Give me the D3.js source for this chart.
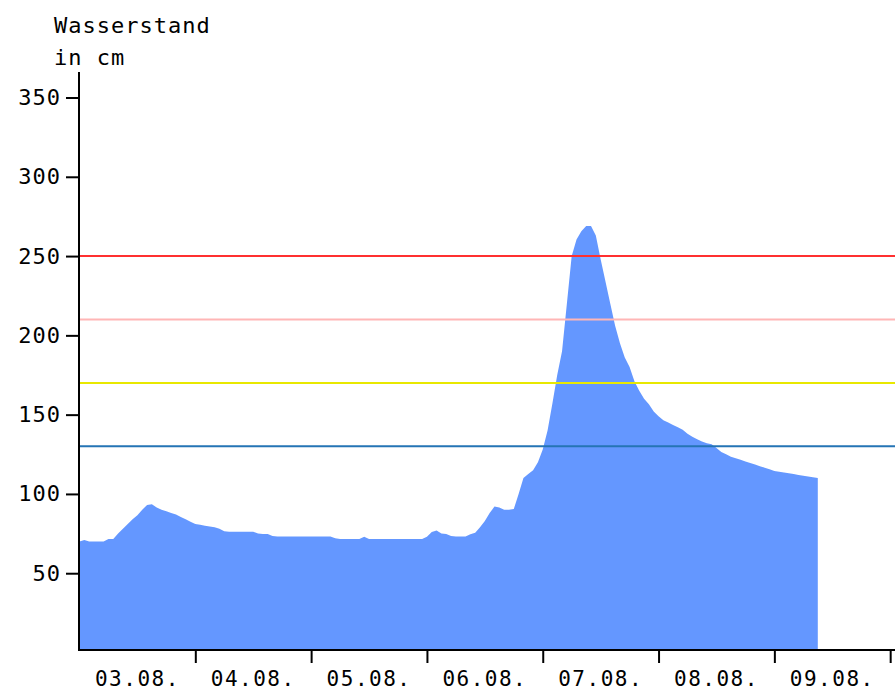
<!DOCTYPE html>
<html>
<head>
<meta charset="utf-8">
<script src="https://cdn.jsdelivr.net/npm/d3@7"></script>
<style>
  body { margin: 0; background: #fff; }
  text { font-family: "DejaVu Sans Mono", monospace; }
</style>
</head>
<body>
<svg id="chart" width="895" height="691"></svg>
<script>

//--------------------------------------
// DATA
//--------------------------------------

// hourly readings, first one at 03.08. 00:00
var startDate = new Date(2021, 7, 3, 0, 0);

var levels = [
  70, 71, 70, 70, 70, 70, 71.5, 71.5, 75, 78, 81, 84, 86.5, 90, 93, 93.5, 91.5, 90, 89, 88, 87, 85.5, 84, 82.5,
  81, 80.5, 80, 79.5, 79, 78, 76.5, 76.2, 76.2, 76.2, 76.2, 76.2, 76.2, 75, 74.7, 74.7, 73.5, 73.2, 73.2, 73.2, 73.2, 73.2, 73.2, 73.2,
  73.2, 73.2, 73.2, 73.2, 73.2, 72, 71.6, 71.6, 71.6, 71.6, 71.6, 73, 71.6, 71.6, 71.6, 71.6, 71.6, 71.6, 71.6, 71.6, 71.6, 71.6, 71.6, 71.6,
  73, 76, 77, 75, 74.7, 73.5, 73.2, 73.2, 73.2, 74.5, 75.5, 79, 83, 88, 92, 91.5, 90, 90, 90.5, 100, 110, 112.5, 115, 120,
  128, 140, 157, 175, 190, 220, 250, 260.5, 265.7, 269, 269, 263, 248, 234, 220, 206, 195, 186, 180, 171, 165, 160, 156.6, 152,
  149, 146.5, 145, 143.5, 142, 140.5, 138, 136, 134.5, 133, 132, 131.4, 129, 126.5, 125, 123.5, 122.5, 121.5, 120.5, 119.5, 118.5, 117.5, 116.5, 115.5,
  114.5, 114, 113.5, 113, 112.5, 112, 111.5, 111, 110.5, 110
];

var dayLabels = ["03.08.", "04.08.", "05.08.", "06.08.", "07.08.", "08.08.", "09.08."];

var yTicks = [50, 100, 150, 200, 250, 300, 350];

// warning levels (cm)
var limitValues = [250, 210, 170, 130];
var limitColours = ["#ff3030", "#ffb6b6", "#e8e800", "#2574b5"];



//--------------------------------------
// SETUP
//--------------------------------------

var svg = d3.select("#chart");
var left = 79, bottom = 650, right = 895;

var x = d3.scaleTime()
  .domain([startDate, d3.timeHour.offset(startDate, 169.5)])
  .range([79.5, 895]);

var y = d3.scaleLinear()
  .domain([0, 350])
  .range([652.5, 97.5]);

var readings = levels.map(function(v, i) {
  return { date: d3.timeHour.offset(startDate, i), value: v };
});



//--------------------------------------
// AREA
//--------------------------------------

var area = d3.area()
  .x(function(d) { return x(d.date); })
  .y0(bottom)
  .y1(function(d) { return y(d.value); });

svg.append("path")
  .datum(readings)
  .attr("d", area)
  .attr("fill", "#6497ff");


// horizontal warning lines, over the area
svg.selectAll("line.limit").data(limitValues).enter().append("line")
  .attr("class", "limit")
  .attr("x1", left + 1)
  .attr("x2", right)
  .attr("y1", function(d) { return y(d); })
  .attr("y2", function(d) { return y(d); })
  .attr("stroke", function(d, i) { return limitColours[i]; })
  .attr("stroke-width", 2);



//--------------------------------------
// AXES
//--------------------------------------

var yAxis = svg.append("g")
  .attr("transform", "translate(" + left + ",0)")
  .call(d3.axisLeft(y).tickValues(yTicks).tickSize(13).tickPadding(5));

yAxis.select(".domain").remove();
yAxis.selectAll("line").attr("stroke", "#000").attr("stroke-width", 2);
yAxis.selectAll("text")
  .attr("font-size", 22)
  .attr("fill", "#000")
  .attr("font-family", "DejaVu Sans Mono, monospace")
  .style("letter-spacing", "1px");

svg.append("line")
  .attr("x1", left).attr("x2", left)
  .attr("y1", 72).attr("y2", bottom + 1)
  .attr("stroke", "#000").attr("stroke-width", 2);


var dayStarts = d3.timeDay.range(d3.timeDay.offset(startDate, 1), d3.timeDay.offset(startDate, 8));

var xAxis = svg.append("g")
  .attr("transform", "translate(0," + bottom + ")")
  .call(d3.axisBottom(x).tickValues(dayStarts).tickSize(13).tickFormat(""));

xAxis.select(".domain").remove();
xAxis.selectAll("line").attr("stroke", "#000").attr("stroke-width", 2);

svg.append("line")
  .attr("x1", left).attr("x2", right)
  .attr("y1", bottom).attr("y2", bottom)
  .attr("stroke", "#000").attr("stroke-width", 2);

// day names sit at noon, between the ticks
svg.selectAll("text.day").data(dayLabels).enter().append("text")
  .attr("class", "day")
  .attr("x", function(d, i) { return x(d3.timeHour.offset(startDate, i * 24 + 12)); })
  .attr("y", 686)
  .attr("text-anchor", "middle")
  .attr("font-size", 21)
  .style("letter-spacing", "1.5px")
  .text(function(d) { return d; });



//--------------------------------------
// TITLE
//--------------------------------------

svg.append("text")
  .attr("x", 54).attr("y", 33)
  .attr("font-size", 22)
  .style("letter-spacing", "1px")
  .text("Wasserstand");

svg.append("text")
  .attr("x", 54).attr("y", 65)
  .attr("font-size", 22)
  .style("letter-spacing", "1px")
  .text("in cm");

</script>
</body>
</html>
